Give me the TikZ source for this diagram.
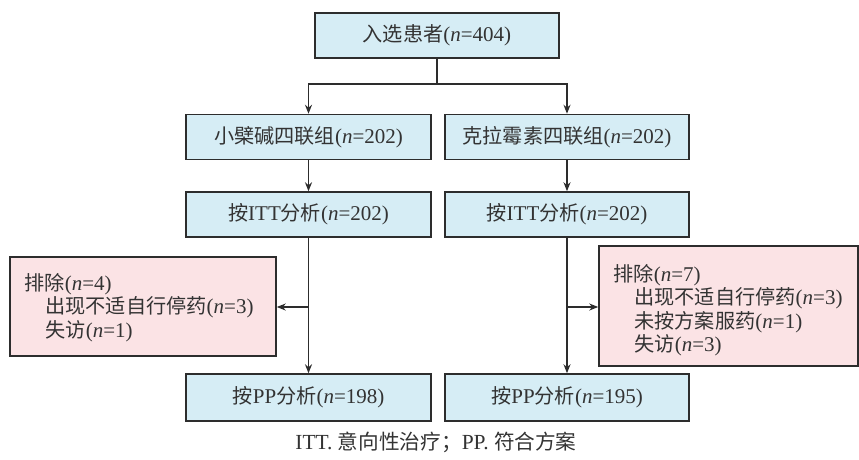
\documentclass[tikz,border=0pt]{standalone}
\usepackage{fontspec}
\setmainfont{Liberation Serif}
\newfontfamily\cjk[Scale=0.96]{Noto Sans CJK SC}
\usetikzlibrary{arrows.meta}
\definecolor{bluef}{RGB}{214,237,245}
\definecolor{pinkf}{RGB}{251,227,229}
\definecolor{linec}{RGB}{45,45,45}
\newcommand{\zh}[1]{{\cjk #1}}
\newcommand{\nn}{\textit{n}}
\begin{document}
\begin{tikzpicture}[x=1pt,y=-1pt,
  every node/.style={text=black!80, font=\fontsize{21}{23.5}\selectfont},
  box/.style={draw=linec, line width=1.5pt, fill=bluef, minimum width=245pt, minimum height=45pt, inner sep=0pt},
  exbox/.style={draw=linec, line width=1.5pt, fill=pinkf, inner sep=0pt},
  extext/.style={align=left, inner sep=0pt, anchor=west},
  ln/.style={line width=1.6pt, draw=linec},
  arr/.style={line width=1.6pt, draw=linec, -{Stealth[length=9pt,width=7pt]}}]
\useasboundingbox (0,0) rectangle (859,459);
% boxes
\node[box, minimum width=244pt] (top) at (437,35.5) {\zh{入选患者}(\nn=404)};
\node[box] (g1) at (308.5,137) {\zh{小檗碱四联组}(\nn=202)};
\node[box, minimum width=244pt] (g2) at (567,137) {\zh{克拉霉素四联组}(\nn=202)};
\node[box] (itt1) at (308.5,214.5) {\zh{按}ITT\zh{分析}(\nn=202)};
\node[box, minimum width=244pt] (itt2) at (567,214.5) {\zh{按}ITT\zh{分析}(\nn=202)};
\node[box, minimum height=47pt] (pp1) at (308.5,397.5) {\zh{按}PP\zh{分析}(\nn=198)};
\node[box, minimum width=244pt, minimum height=47pt] (pp2) at (567,397.5) {\zh{按}PP\zh{分析}(\nn=195)};
% exclusion boxes
\node[exbox, minimum width=266pt, minimum height=99pt] (ex1) at (143,306.5) {};
\node[extext] (ex1t) at ([xshift=15pt,yshift=-1pt]ex1.west) {\zh{排除}(\nn=4)\\
  \hspace*{1em}\zh{出现不适自行停药}(\nn=3)\\
  \hspace*{1em}\zh{失访}(\nn=1)};
\node[exbox, minimum width=259pt, minimum height=120pt] (ex2) at (728.5,306) {};
\node[extext] (ex2t) at ([xshift=15pt,yshift=-4pt]ex2.west) {\zh{排除}(\nn=7)\\
  \hspace*{1em}\zh{出现不适自行停药}(\nn=3)\\
  \hspace*{1em}\zh{未按方案服药}(\nn=1)\\
  \hspace*{1em}\zh{失访}(\nn=3)};
% caption
\node[font=\fontsize{21.5}{25}\selectfont] (cap) at (436,442) {ITT. \zh{意向性治疗；}PP. \zh{符合方案}};
% connectors
\coordinate (split) at (437,84);
\draw[ln] (top.south) -- (split);
\draw[arr] (split) -| (g1.north);
\draw[arr] (split) -| (g2.north);
\draw[arr] (g1) -- (itt1);
\draw[arr] (g2) -- (itt2);
\draw[arr] (itt1) -- (pp1);
\draw[arr] (itt2) -- (pp2);
\coordinate (b1) at (308.5,307);
\coordinate (b2) at (567,307);
\draw[arr] (b1) -- (b1 -| ex1.east);
\draw[arr] (b2) -- (b2 -| ex2.west);
\end{tikzpicture}
\end{document}
